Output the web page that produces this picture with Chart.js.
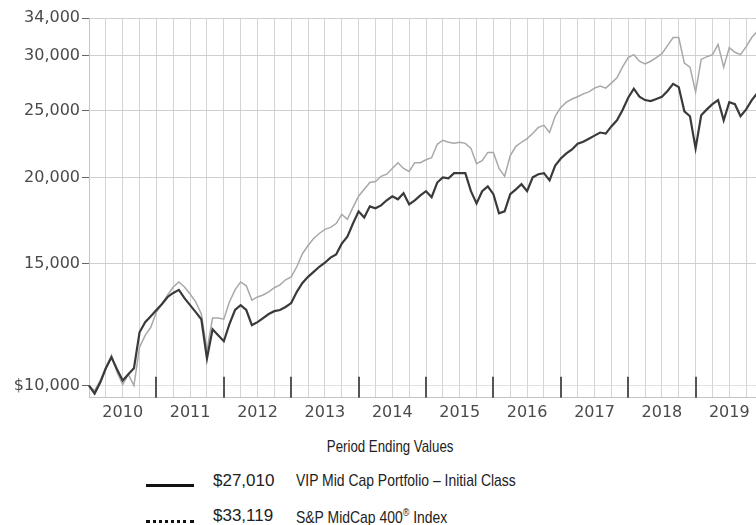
<!DOCTYPE html>
<html>
<head>
<meta charset="utf-8">
<script src="https://cdn.jsdelivr.net/npm/chart.js@4/dist/chart.umd.min.js"></script>
<style>
    html, body { margin: 0; padding: 0; background: #fff; overflow: hidden; width: 756px; height: 525px; }
    #wrap { position: absolute; left: 0; top: 0; width: 770px; height: 431px; }
    .legend { position: absolute; font-family: "Liberation Sans Narrow", "Liberation Sans", sans-serif; color: #222; font-size: 17px; white-space: nowrap; }
    .title { left: 0; width: 780px; text-align: center; top: 437px; }
    .title span { display: inline-block; transform: scaleX(0.78); }
    .row { left: 146px; height: 22px; }
    .row span { position: absolute; top: 0; }
    .row .txt { transform: scaleX(0.82); transform-origin: 0 0; }
    .sample { position: absolute; left: 0; width: 48px; }
</style>
</head>
<body>
<div id="wrap"><canvas id="growth" width="770" height="431"></canvas></div>

<div class="legend title"><span>Period Ending Values</span></div>
<div class="legend row" style="top:471px">
    <div class="sample" style="top:13px; border-top:3px solid #111;"></div>
    <span style="left:67px">$27,010</span>
    <span class="txt" style="left:150px">VIP Mid Cap Portfolio – Initial Class</span>
</div>
<div class="legend row" style="top:506px">
    <div class="sample" style="top:14px; border-top:3px dotted #111;"></div>
    <span style="left:67px">$33,119</span>
    <span class="txt" style="left:150px">S&amp;P MidCap 400<sup style="font-size:11px">®</sup> Index</span>
</div>

<script>
// month-end values, Dec 2009 .. Dec 2019 (hypothetical $10,000 investment)
const years = [2010, 2011, 2012, 2013, 2014, 2015, 2016, 2017, 2018, 2019];
const monthNames = ["Jan", "Feb", "Mar", "Apr", "May", "Jun", "Jul", "Aug", "Sep", "Oct", "Nov", "Dec"];

const fundValues = [
    10000,
    9735, 10100, 10590, 10990, 10550, 10170, 10380, 10590, 11940, 12350, 12600, 12860,
    13120, 13430, 13610, 13750, 13380, 13070, 12770, 12470, 10940, 12060, 11820, 11590,
    12270, 12860, 13070, 12860, 12230, 12350, 12520, 12690, 12810, 12860, 12990, 13160,
    13660, 14070, 14360, 14600, 14850, 15050, 15310, 15470, 16040, 16420, 17150, 17860,
    17500, 18160, 18040, 18220, 18530, 18780, 18590, 18970, 18280, 18530, 18840, 19100,
    18720, 19660, 20000, 19940, 20280, 20280, 20280, 19100, 18340, 19100, 19410, 18910,
    17740, 17860, 18910, 19220, 19550, 19100, 20000, 20210, 20280, 19800, 20800, 21300,
    21660, 21950, 22370, 22520, 22750, 22980, 23220, 23140, 23700, 24190, 25030, 26070,
    26870, 26160, 25870, 25780, 25960, 26160, 26660, 27300, 27010, 24920, 24510, 22030,
    24590, 25080, 25520, 25870, 24190, 25690, 25520, 24510, 25080, 25870, 26490, 27010
];

const indexValues = [
    10000,
    9830, 10170, 10630, 11060, 10450, 10030, 10380, 10000, 11360, 11820, 12140, 12770,
    13120, 13520, 13880, 14120, 13880, 13560, 13210, 12690, 11240, 12520, 12520, 12470,
    13210, 13750, 14120, 13940, 13290, 13430, 13520, 13660, 13850, 13980, 14220, 14360,
    14850, 15510, 15940, 16320, 16590, 16820, 16930, 17150, 17680, 17390, 18100, 18780,
    19220, 19660, 19730, 20070, 20210, 20600, 21000, 20600, 20400, 21000, 21000, 21210,
    21350, 22330, 22630, 22480, 22400, 22480, 22400, 22030, 20930, 21140, 21730, 21730,
    20600, 20070, 21500, 22180, 22480, 22750, 23140, 23620, 23780, 23220, 24510, 25250,
    25690, 25960, 26160, 26410, 26580, 26920, 27100, 26920, 27370, 27860, 28890, 29800,
    30090, 29440, 29180, 29440, 29800, 30200, 31010, 31860, 31860, 29260, 28870, 26580,
    29620, 29890, 30090, 31120, 28870, 30810, 30330, 30090, 30910, 31860, 32530, 33119
];

const yTicks = [10000, 15000, 20000, 25000, 30000, 34000];

const labels = ["Dec 2009"];
years.forEach(y => monthNames.forEach(m => labels.push(m + " " + y)));

// tall marks at the bottom between years
const yearMarks = {
    id: "yearMarks",
    afterDatasetsDraw(chart) {
        const { ctx, chartArea, scales: { x } } = chart;
        ctx.save();
        ctx.strokeStyle = "#555";
        ctx.lineWidth = 2;
        labels.forEach((l, i) => {
            if (i === 0 || !l.startsWith("Dec")) return;
            const px = Math.round(x.getPixelForValue(i));
            ctx.beginPath();
            ctx.moveTo(px, chartArea.bottom - 21);
            ctx.lineTo(px, chartArea.bottom);
            ctx.stroke();
        });
        ctx.restore();
    }
};

const tickFont = { family: "DejaVu Sans", size: 16 };

new Chart(document.getElementById("growth").getContext("2d"), {
    type: "line",
    data: {
        labels,
        datasets: [{
            label: "VIP Mid Cap Portfolio – Initial Class",
            data: fundValues,
            borderColor: "#3a3a3a",
            borderWidth: 2.2,
            pointRadius: 0,
            tension: 0
        }, {
            label: "S&P MidCap 400® Index",
            data: indexValues,
            borderColor: "#a8a8a8",
            borderWidth: 1.5,
            pointRadius: 0,
            tension: 0
        }]
    },
    options: {
        responsive: false,
        animation: false,
        layout: { padding: { top: 18, right: 7, bottom: 4, left: 0 } },
        plugins: { legend: { display: false }, tooltip: { enabled: false } },
        scales: {
            x: {
                type: "category",
                offset: false,
                border: { color: "#c4c4c4" },
                grid: {
                    drawTicks: false,
                    color: ctx => ctx.index % 3 === 0 ? "#d4d4d4" : "rgba(0,0,0,0)"
                },
                ticks: {
                    autoSkip: false,
                    maxRotation: 0,
                    padding: 5,
                    color: "#4a4a4a",
                    font: tickFont,
                    callback: (v, i) => labels[i].startsWith("Jun") ? labels[i].slice(4) : ""
                }
            },
            y: {
                type: "logarithmic",
                min: 9600,
                max: 34000,
                afterFit: s => { s.width = 89; },
                afterBuildTicks: s => { s.ticks = yTicks.map(value => ({ value })); },
                border: { color: "#c4c4c4" },
                grid: {
                    color: ctx => ctx.tick && ctx.tick.value === 10000 ? "#e2e2e2" : "#cfcfcf",
                    tickLength: 7,
                    tickColor: "#666"
                },
                ticks: {
                    padding: 2,
                    color: "#4a4a4a",
                    font: tickFont,
                    callback: v => (v === 10000 ? "$" : "") + v.toLocaleString("en-US")
                }
            }
        }
    },
    plugins: [yearMarks]
});
</script>
</body>
</html>
